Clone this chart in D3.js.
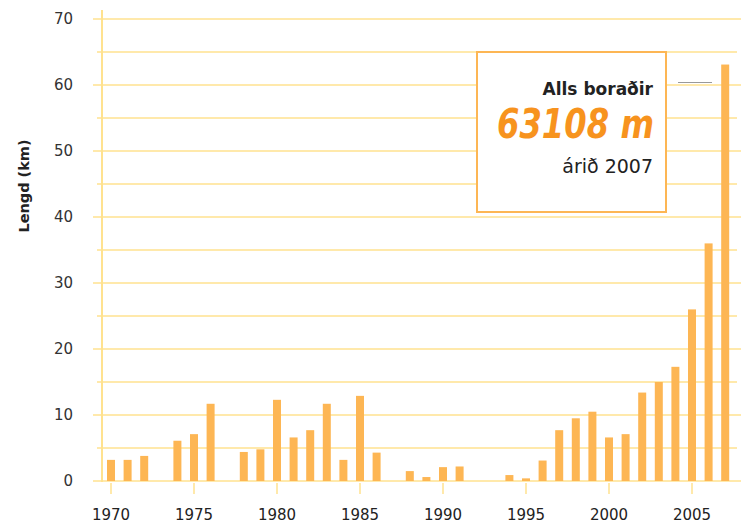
<!DOCTYPE html>
<html>
<head>
<meta charset="utf-8">
<script src="https://cdn.jsdelivr.net/npm/d3@7"></script>
<style>
  body { margin: 0; background: #fff; }
  text { font-family: "DejaVu Sans", sans-serif; }
</style>
</head>
<body>
<svg id="chart" width="746" height="526"></svg>
<script>
// ár og borun (km)
const years = [1970,1971,1972,1974,1975,1976,1978,1979,1980,1981,1982,1983,1984,1985,1986,
               1988,1989,1990,1991,1994,1995,1996,1997,1998,1999,2000,2001,2002,2003,2004,2005,2006,2007];
const lengths = [3.2,3.2,3.8,6.1,7.1,11.7,4.4,4.8,12.3,6.6,7.7,11.7,3.2,12.9,4.3,
                 1.5,0.6,2.1,2.2,0.9,0.4,3.1,7.7,9.5,10.5,6.6,7.1,13.4,15.0,17.3,26.0,36.0,63.1];
const yTicks = [0,10,20,30,40,50,60,70];
const xTicks = [1970,1975,1980,1985,1990,1995,2000,2005];

const svg = d3.select("#chart");
const x = d3.scaleLinear().domain([1970, 2005]).range([111, 692]);
const y = d3.scaleLinear().domain([0, 70]).range([481, 19]);

const gridColor = "#ffe28f";
const barColor = "#fdb654";

// gridlines, every 5 km
const grid = svg.append("g");
for (let v = 5; v <= 70; v += 5) {
    const major = v % 10 == 0;
    grid.append("line")
        .attr("x1", major ? 93 : 97).attr("x2", major ? 741 : 737)
        .attr("y1", y(v)).attr("y2", y(v))
        .attr("stroke", gridColor).attr("stroke-width", 1.5);
}
grid.append("line").attr("x1", 93).attr("x2", 741).attr("y1", y(0)).attr("y2", y(0))
    .attr("stroke", gridColor).attr("stroke-width", 1.5);
grid.append("line").attr("x1", 102).attr("x2", 102).attr("y1", 10).attr("y2", 482)
    .attr("stroke", gridColor).attr("stroke-width", 2);

// y labels
svg.append("g").selectAll("text").data(yTicks).enter().append("text")
    .attr("x", 73).attr("y", d => y(d) + 5)
    .attr("text-anchor", "end").attr("font-size", 15).attr("fill", "#333")
    .text(d => d);

svg.append("text")
    .attr("transform", "translate(29,186) rotate(-90)")
    .attr("text-anchor", "middle").attr("font-size", 14.5).attr("font-weight", 600)
    .attr("font-family", "Open Sans, sans-serif").attr("fill", "#222")
    .text("Lengd (km)");

// x ticks and labels
const xg = svg.append("g");
xg.selectAll("line").data(xTicks).enter().append("line")
    .attr("x1", d => x(d)).attr("x2", d => x(d)).attr("y1", 483).attr("y2", 494)
    .attr("stroke", gridColor).attr("stroke-width", 1.5);
xg.selectAll("text").data(xTicks).enter().append("text")
    .attr("x", d => x(d)).attr("y", 520)
    .attr("text-anchor", "middle").attr("font-size", 15).attr("fill", "#222")
    .text(d => d);

// bars
svg.append("g").selectAll("rect").data(years).enter().append("rect")
    .attr("x", d => x(d) - 4)
    .attr("width", 8)
    .attr("y", (d, i) => y(lengths[i]))
    .attr("height", (d, i) => y(0) - y(lengths[i]))
    .attr("fill", barColor);

// info box
svg.append("rect").attr("x", 477).attr("y", 52).attr("width", 189).attr("height", 160)
    .attr("fill", "#fff").attr("stroke", barColor).attr("stroke-width", 2);
svg.append("line").attr("x1", 678).attr("x2", 712).attr("y1", 82.5).attr("y2", 82.5)
    .attr("stroke", "#999").attr("stroke-width", 1);
svg.append("text").attr("x", 653).attr("y", 95).attr("text-anchor", "end")
    .attr("font-size", 17).attr("font-weight", 600).attr("font-family", "Open Sans, sans-serif")
    .attr("fill", "#222")
    .text("Alls boraðir");
svg.append("text").attr("x", 497).attr("y", 138)
    .attr("textLength", 157).attr("lengthAdjust", "spacingAndGlyphs")
    .attr("font-size", 40).attr("font-weight", "bold").attr("font-style", "italic")
    .attr("fill", "#f7931e").attr("font-family", "Liberation Sans, sans-serif")
    .text("63108 m");
svg.append("text").attr("x", 653).attr("y", 173).attr("text-anchor", "end")
    .attr("font-size", 19).attr("fill", "#222")
    .text("árið 2007");
</script>
</body>
</html>
